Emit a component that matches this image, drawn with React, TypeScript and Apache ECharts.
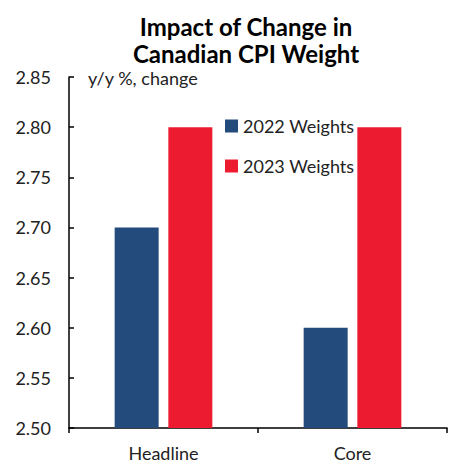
import React, { useEffect, useRef } from "react";
import * as echarts from "echarts";

const categories = ["Headline", "Core"];
const weights2022 = [2.7, 2.6];
const weights2023 = [2.8, 2.8];
const seriesNames = ["2022 Weights", "2023 Weights"];
const titleLines = ["Impact of Change in", "Canadian CPI Weight"];
const unitLabel = "y/y %, change";

export default function App() {
  const ref = useRef<HTMLDivElement>(null);
  useEffect(() => {
    if (!ref.current) return;
    const chart = echarts.init(ref.current, null, { renderer: "svg" });
    const font = "Lato";
    chart.setOption({
      animation: false,
      textStyle: { fontFamily: font },
      title: {
        text: titleLines.join("\n"),
        left: 241,
        textAlign: "center",
        top: 8,
        textStyle: { fontFamily: font, fontWeight: "bold", fontSize: 24, lineHeight: 27, color: "#000" },
      },
      legend: {
        orient: "vertical",
        left: 220,
        top: 112,
        itemWidth: 13,
        itemHeight: 13,
        itemGap: 22,
        icon: "rect",
        textStyle: { fontFamily: font, fontSize: 18, color: "#222" },
        data: seriesNames,
      },
      graphic: [
        {
          type: "text",
          left: 88,
          top: 69,
          style: { text: unitLabel, fontFamily: font, fontSize: 18, fill: "#222" },
        },
      ],
      grid: { left: 69, right: 8, top: 77, bottom: 36, containLabel: false },
      xAxis: {
        type: "category",
        data: categories,
        axisLine: { lineStyle: { color: "#000", width: 1.5 } },
        axisTick: { show: true, length: 5, lineStyle: { color: "#000", width: 1.5 } },
        axisLabel: { fontFamily: font, fontSize: 18, color: "#222", margin: 16 },
      },
      yAxis: {
        type: "value",
        min: 2.5,
        max: 2.85,
        interval: 0.05,
        splitLine: { show: false },
        axisLine: { show: true, lineStyle: { color: "#000", width: 1.5 } },
        axisTick: { show: true, inside: true, length: 5, lineStyle: { color: "#000", width: 1.5 } },
        axisLabel: {
          fontFamily: font,
          fontSize: 18,
          color: "#222",
          margin: 18,
          formatter: (v: number) => v.toFixed(2),
        },
      },
      series: [
        {
          name: seriesNames[0],
          type: "bar",
          data: weights2022,
          barWidth: 44,
          barGap: "22%",
          itemStyle: { color: "#234b7c" },
        },
        {
          name: seriesNames[1],
          type: "bar",
          data: weights2023,
          barWidth: 44,
          barGap: "22%",
          itemStyle: { color: "#ed1b2f" },
        },
      ],
    });
    return () => chart.dispose();
  }, []);
  return <div ref={ref} style={{ width: 455, height: 464, position: "absolute", left: 0, top: 0 }} />;
}
